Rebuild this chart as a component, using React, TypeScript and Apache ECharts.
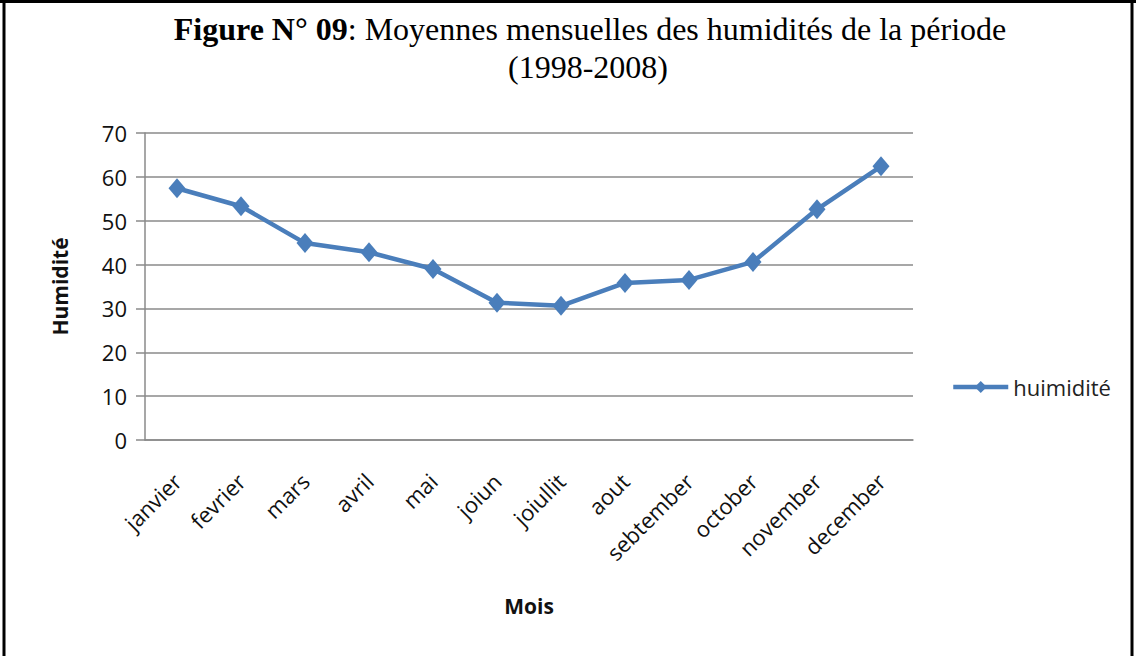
import React, { useEffect, useRef } from "react";
import * as echarts from "echarts";

const months = ["janvier", "fevrier", "mars", "avril", "mai", "joiun", "joiullit", "aout", "sebtember", "october", "november", "december"];
const humidity = [57.4, 53.3, 44.9, 42.8, 39.0, 31.3, 30.6, 35.8, 36.5, 40.6, 52.6, 62.4];
const yTicks = { min: 0, max: 70, interval: 10 };
const seriesName = "huimidité";
const titleBold = "Figure N° 09";
const titleRest = ": Moyennes mensuelles des humidités de la période";
const titleLine2 = "(1998-2008)";

export default function App() {
  const ref = useRef<HTMLDivElement>(null);
  useEffect(() => {
    document.body.style.margin = "0";
    const chart = echarts.init(ref.current!, null, { renderer: "svg" });
    const sans = "'Open Sans', 'Noto Sans', sans-serif";
    const serif = "'Liberation Serif', 'Times New Roman', serif";
    const gray = "#8a8a8a";
    chart.setOption({
      animation: false,
      backgroundColor: "#ffffff",
      graphic: [
        {
          type: "text",
          x: 590,
          y: 13,
          style: {
            text: `{b|${titleBold}}{r|${titleRest}}`,
            textAlign: "center",
            textVerticalAlign: "top",
            rich: {
              b: { fontFamily: serif, fontWeight: "bold", fontSize: 32, fill: "#000" },
              r: { fontFamily: serif, fontWeight: "normal", fontSize: 32, fill: "#000" },
            },
          },
        },
        {
          type: "text",
          x: 588,
          y: 51,
          style: {
            text: titleLine2,
            textAlign: "center",
            textVerticalAlign: "top",
            fontFamily: serif,
            fontSize: 32,
            fill: "#000",
          },
        },
        { type: "line", shape: { x1: 4, y1: 0, x2: 4, y2: 656 }, style: { stroke: "#000", lineWidth: 3 } },
        { type: "line", shape: { x1: 1132, y1: 0, x2: 1132, y2: 656 }, style: { stroke: "#000", lineWidth: 3 } },
        { type: "line", shape: { x1: 0, y1: 1.5, x2: 1136, y2: 1.5 }, style: { stroke: "#000", lineWidth: 3 } },
      ],
      legend: {
        left: 946,
        top: 371,
        itemWidth: 55,
        itemHeight: 15,
        lineStyle: { width: 4.5 },
        textStyle: { fontFamily: sans, fontSize: 22, color: "#222" },
        data: [seriesName],
      },
      grid: { left: 145, right: 223, top: 133, bottom: 216 },
      xAxis: {
        type: "category",
        data: months,
        boundaryGap: true,
        axisLine: { show: true, lineStyle: { color: gray, width: 1.5 } },
        axisTick: { show: false },
        axisLabel: { rotate: 45, fontFamily: sans, fontSize: 22, color: "#111", margin: 37, interval: 0 },
        name: "Mois",
        nameLocation: "middle",
        nameGap: 155,
        nameTextStyle: { fontFamily: sans, fontSize: 21, fontWeight: "bold", color: "#111" },
      },
      yAxis: {
        type: "value",
        min: yTicks.min,
        max: yTicks.max,
        interval: yTicks.interval,
        axisLine: { show: true, lineStyle: { color: gray, width: 1.5 } },
        axisTick: { show: true, length: 9, lineStyle: { color: gray, width: 1.5 } },
        splitLine: { show: true, lineStyle: { color: gray, width: 1.5 } },
        axisLabel: { fontFamily: sans, fontSize: 22, color: "#111", margin: 18 },
        name: "Humidité",
        nameLocation: "middle",
        nameGap: 75,
        nameTextStyle: { fontFamily: sans, fontSize: 21, fontWeight: "bold", color: "#111" },
      },
      series: [
        {
          name: seriesName,
          type: "line",
          data: humidity,
          symbol: "diamond",
          symbolSize: [17, 20],
          showSymbol: true,
          itemStyle: { color: "#4a7ebb" },
          lineStyle: { color: "#4a7ebb", width: 4.5 },
        },
      ],
    });
    return () => chart.dispose();
  }, []);
  return <div ref={ref} style={{ width: 1136, height: 656, position: "absolute", left: 0, top: 0 }} />;
}
